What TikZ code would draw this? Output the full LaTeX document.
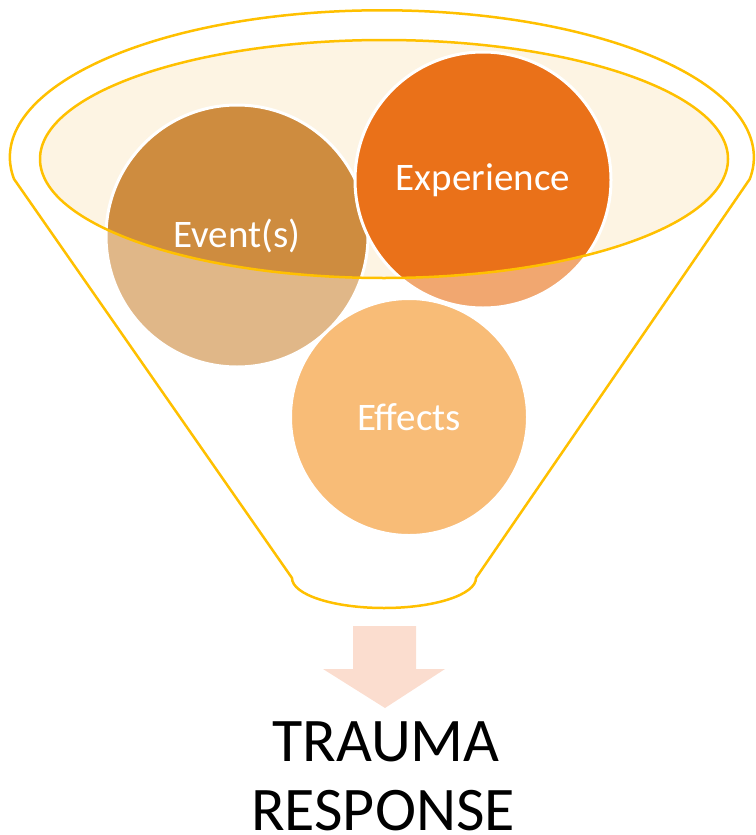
\documentclass[tikz,border=0pt]{standalone}
\usepackage{fontspec}
\setmainfont{Carlito}
\definecolor{rimgold}{HTML}{FFC000}
\definecolor{cream}{HTML}{FDF4E3}
\definecolor{eventbrown}{HTML}{CE8C3F}
\definecolor{experienceorange}{HTML}{EA7119}
\definecolor{effectsorange}{HTML}{F49325}
\definecolor{arrowpeach}{HTML}{FBDDCF}
\tikzset{
  bubble/.style = {circle, draw=white, line width=3pt, text=white,
    inner sep=0pt, font=\fontsize{39}{47}\selectfont},
  rim/.style = {draw=rimgold, line width=2.5pt, line join=round},
  bigtext/.style = {anchor=base, inner sep=0pt, font=\fontsize{62}{74}\selectfont}
}
\newcommand{\funnelshape}{(14,179)
  arc[start angle=171.5, end angle=368.5, x radius=372, y radius=147]
  -- (476,578)
  arc[start angle=0, end angle=180, x radius=92, y radius=30]
  -- cycle}
\newcommand{\funneltop}{(384,159) ellipse[x radius=344, y radius=119]}

\begin{document}
\begin{tikzpicture}[x=1pt,y=-1pt]
  \useasboundingbox (0,0) rectangle (755,835);
  \fill[cream] \funneltop;
  \node[bubble, fill=eventbrown, minimum size=262pt] (event) at (237,236) {Event(s)};
  \node[bubble, fill=experienceorange, minimum size=256pt] (experience) at (483,180) {Experience};
  \node[bubble, fill=effectsorange, minimum size=237pt] (effects) at (409,417) {Effects};
  % glass of the funnel washes out what lies below the rim
  \fill[white, fill opacity=0.38, even odd rule] \funnelshape \funneltop;
  \draw[rim] \funnelshape;
  \draw[rim] \funneltop;
  \fill[arrowpeach] (353,626) -- (416,626) -- (416,669) -- (445,669)
    -- (385,708) -- (323,669) -- (353,669) -- cycle;
  \node[bigtext] (trauma) at (386,761) {TRAUMA};
  \node[bigtext] (response) at (383,830) {RESPONSE};
\end{tikzpicture}
\end{document}
